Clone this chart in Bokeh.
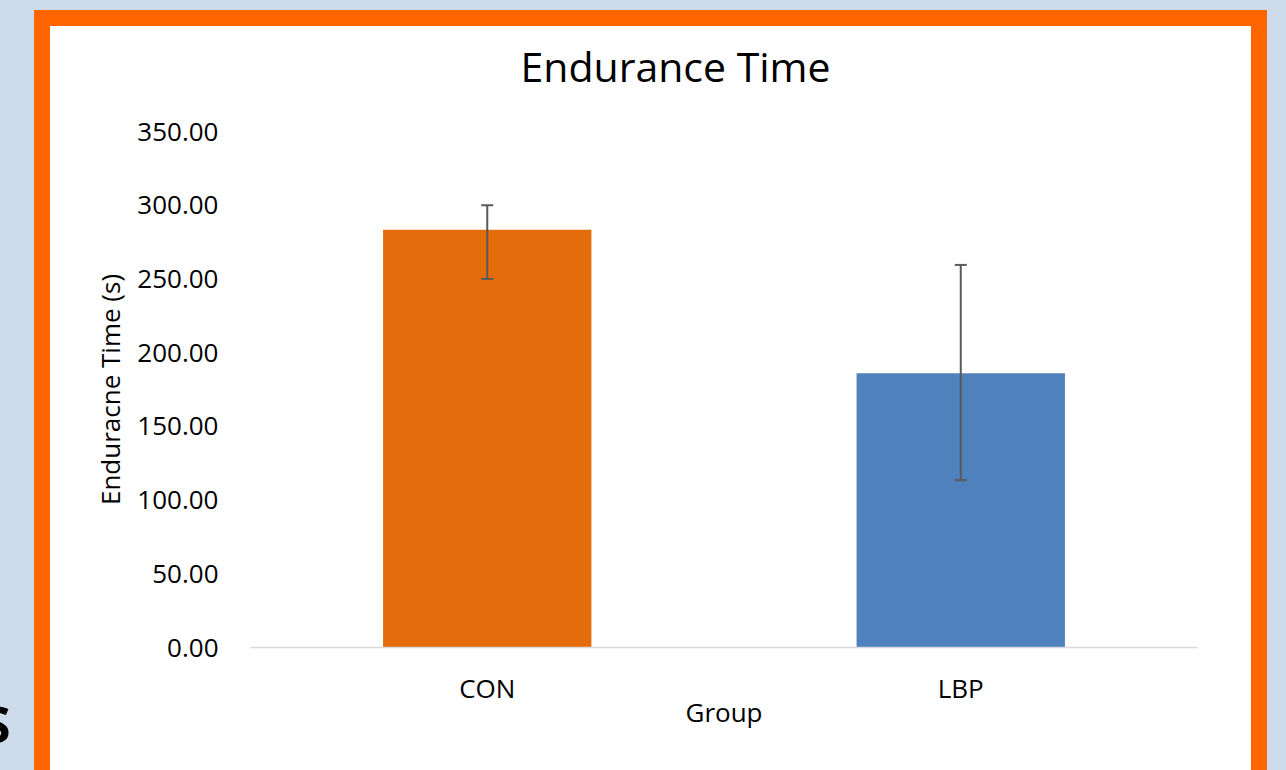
from bokeh.plotting import figure
from bokeh.models import (ColumnDataSource, Whisker, TeeHead, Div, Column, Title,
                          NumeralTickFormatter, SingleIntervalTicker)
from bokeh.embed import file_html
from bokeh.resources import INLINE

# ---- data ----
groups = ["CON", "LBP"]
means = [283.3, 186.0]
err_upper = [300.0, 259.5]
err_lower = [250.0, 113.5]
bar_colors = ["#E46C0A", "#4F81BD"]

FONT = "Open Sans"

src = ColumnDataSource(dict(groups=groups, means=means, upper=err_upper,
                            lower=err_lower, colors=bar_colors))

p = figure(x_range=groups, y_range=(0, 350), width=1201, height=744,
           output_backend="svg", toolbar_location=None,
           min_border_left=200, min_border_right=54,
           min_border_top=105, min_border_bottom=123,
           styles={"background-color": "white"})
p.border_fill_color = "white"
p.background_fill_color = "white"
p.outline_line_color = None
p.x_range.range_padding = 0

p.vbar(x="groups", top="means", width=0.44, source=src, fill_color="colors",
       line_color=None)

p.add_layout(Whisker(base="groups", upper="upper", lower="lower", source=src,
                     level="annotation",
                     line_color="#595959", line_width=2,
                     upper_head=TeeHead(size=12, line_color="#595959", line_width=2),
                     lower_head=TeeHead(size=12, line_color="#595959", line_width=2)))

# spacer between the title and the plot area
p.add_layout(Title(text=" ", text_font_size="2px", standoff=34), "above")

# title
p.title.text = "Endurance Time"
p.title.text_font = FONT
p.title.text_font_size = "41px"
p.title.text_font_style = "normal"
p.title.text_color = "black"
p.title.align = "left"
p.title.offset = 270
p.title.standoff = 0

# axes
p.xgrid.grid_line_color = None
p.ygrid.grid_line_color = None

p.yaxis.ticker = SingleIntervalTicker(interval=50)
p.yaxis.formatter = NumeralTickFormatter(format="0.00")
p.yaxis.axis_line_color = None
p.yaxis.major_tick_line_color = None
p.yaxis.minor_tick_line_color = None
p.yaxis.major_tick_out = 0
p.yaxis.major_tick_in = 0
p.yaxis.major_label_standoff = 28
p.yaxis.axis_label = "Enduracne Time (s)"
p.yaxis.axis_label_standoff = 6

p.xaxis.axis_line_color = "#D9D9D9"
p.xaxis.axis_line_width = 1.5
p.xaxis.major_tick_line_color = None
p.xaxis.minor_tick_line_color = None
p.xaxis.major_tick_out = 0
p.xaxis.major_tick_in = 0
p.xaxis.major_label_standoff = 22
p.xaxis.axis_label = "Group"
p.xaxis.axis_label_standoff = -15

for ax in (p.xaxis, p.yaxis):
    ax.major_label_text_font = FONT
    ax.major_label_text_font_size = "26px"
    ax.major_label_text_color = "black"
    ax.axis_label_text_font = FONT
    ax.axis_label_text_font_size = "26px"
    ax.axis_label_text_font_style = "normal"
    ax.axis_label_text_color = "black"

# orange frame around the white chart panel
framed = Column(children=[p],
                styles={"background-color": "#FF6600",
                        "padding": "16px 16px 0px 16px"})

# cut-off slide text at the left edge
side_text = Div(text="S",
                styles={"position": "absolute", "left": "-22px", "top": "694px",
                        "font-family": "Open Sans", "font-weight": "bold",
                        "font-size": "50px", "color": "black",
                        "line-height": "1"})

page = Column(children=[framed, side_text],
              styles={"background-color": "#CEDBEB",
                      "padding": "10px 0px 0px 34px",
                      "width": "1286px", "height": "770px",
                      "overflow": "hidden", "position": "relative",
                      "box-sizing": "border-box"})

open("out.html", "w").write(file_html(page, INLINE))
